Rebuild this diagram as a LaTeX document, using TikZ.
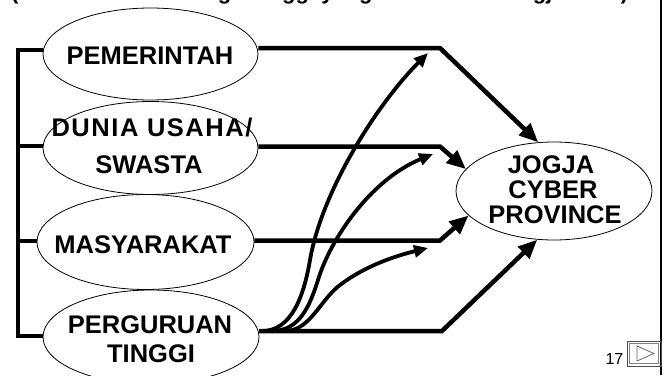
\documentclass[tikz,border=0pt]{standalone}
\usepackage{fontspec}
\setmainfont{Liberation Sans}
\usetikzlibrary{arrows.meta,shapes.geometric}
\begin{document}
\begin{tikzpicture}[x=1pt,y=-1pt,
  actor/.style={draw,ellipse,line width=0.8pt,inner sep=0pt},
  lbl/.style={anchor=base,inner sep=0pt,font=\bfseries\fontsize{25.5}{28}\selectfont},
  thickline/.style={line width=4.5pt,line join=miter},
  mainarrow/.style={line width=4.5pt,line join=miter,-{Triangle[length=19pt,width=16pt]}},
  curvearrow/.style={line width=3.8pt,-{Triangle[length=14pt,width=12pt]}}]
\useasboundingbox (0,0) rectangle (664,375);
% title (cut off at top)
\node[anchor=base west,inner sep=0pt,font=\bfseries\fontsize{22}{24}\selectfont] (title) at (11,-0.5) {(Peran Serta Lembaga Tinggi yang Membentuk Jogja Baru)};
% ellipses
\node[actor,minimum width=215pt,minimum height=92pt] (pem) at (150.5,54) {};
\node[actor,minimum width=215pt,minimum height=93pt] (dun) at (150.5,148) {};
\node[actor,minimum width=217pt,minimum height=95pt] (mas) at (145.5,242) {};
\node[actor,minimum width=216pt,minimum height=94pt] (per) at (151,337) {};
\node[actor,minimum width=196pt,minimum height=98pt] (jcp) at (554,191) {};
% labels
\node[lbl] (tpem) at (150,64) {PEMERINTAH};
\node[lbl] (tdun1) at (152,136) {\addfontfeature{LetterSpace=6}DUNIA USAHA/};
\node[lbl] (tdun2) at (149,173) {SWASTA};
\node[lbl] (tmas) at (143,253) {MASYARAKAT};
\node[lbl] (tper1) at (150,333) {PERGURUAN};
\node[lbl] (tper2) at (151,362) {TINGGI};
\node[lbl] (tj1) at (551,173) {JOGJA};
\node[lbl] (tj2) at (553,198) {CYBER};
\node[lbl] (tj3) at (555,223) {PROVINCE};
% corner points
\coordinate (k1) at (440,48);
\coordinate (k2) at (440,146.5);
\coordinate (k3) at (440,240.5);
\coordinate (k4) at (442,331);
\coordinate (e1) at (428,53);
\coordinate (e2) at (433,154);
\coordinate (e3) at (428,248);
\coordinate (v1) at (18,50);
\coordinate (v2) at (18,146);
\coordinate (v3) at (18,241);
\coordinate (v4) at (18,336);
% left bracket
\draw[thickline] (pem.west |- v1) -- (v1) -- (v4) -- (per.west |- v4);
\draw[thickline] (v2) -- (dun.west |- v2);
\draw[thickline] (v3) -- (mas.west |- v3);
% curves from perguruan tinggi
\draw[curvearrow] (per.east |- k4) -- (262,331) .. controls (292,331) and (304,295) .. (310,260) .. controls (322,190) and (378,103) .. (e1);
\draw[curvearrow] (per.east |- k4) -- (272,331) .. controls (300,331) and (310,305) .. (318,280) .. controls (330,240) and (370,180) .. (e2);
\draw[curvearrow] (per.east |- k4) -- (285,331) .. controls (310,331) and (320,300) .. (340,285) .. controls (365,266) and (395,256) .. (e3);
% main connectors
\draw[mainarrow] (pem.east |- k1) -- (k1) -- (jcp.108);
\draw[mainarrow] (dun.east |- k2) -- (k2) -- (jcp.166);
\draw[mainarrow] (mas.east |- k3) -- (k3) -- (jcp.196);
\draw[mainarrow] (per.east |- k4) -- (k4) -- (jcp.251);
% right frame line
\draw[line width=2pt] (661,0) -- (661,375);
% page number and button
\node[anchor=base east,inner sep=0pt,font=\fontsize{16}{18}\selectfont] (num) at (623.5,364.5) {17};
\draw[line width=1pt,black!70] (627,341) rectangle (661,366);
\draw[line width=0.8pt,black!50] (629.5,343.5) rectangle (658.5,363.5);
\draw[line width=0.8pt,black!60] (637,346) -- (637,361) -- (654,353.5) -- cycle;
\end{tikzpicture}
\end{document}
